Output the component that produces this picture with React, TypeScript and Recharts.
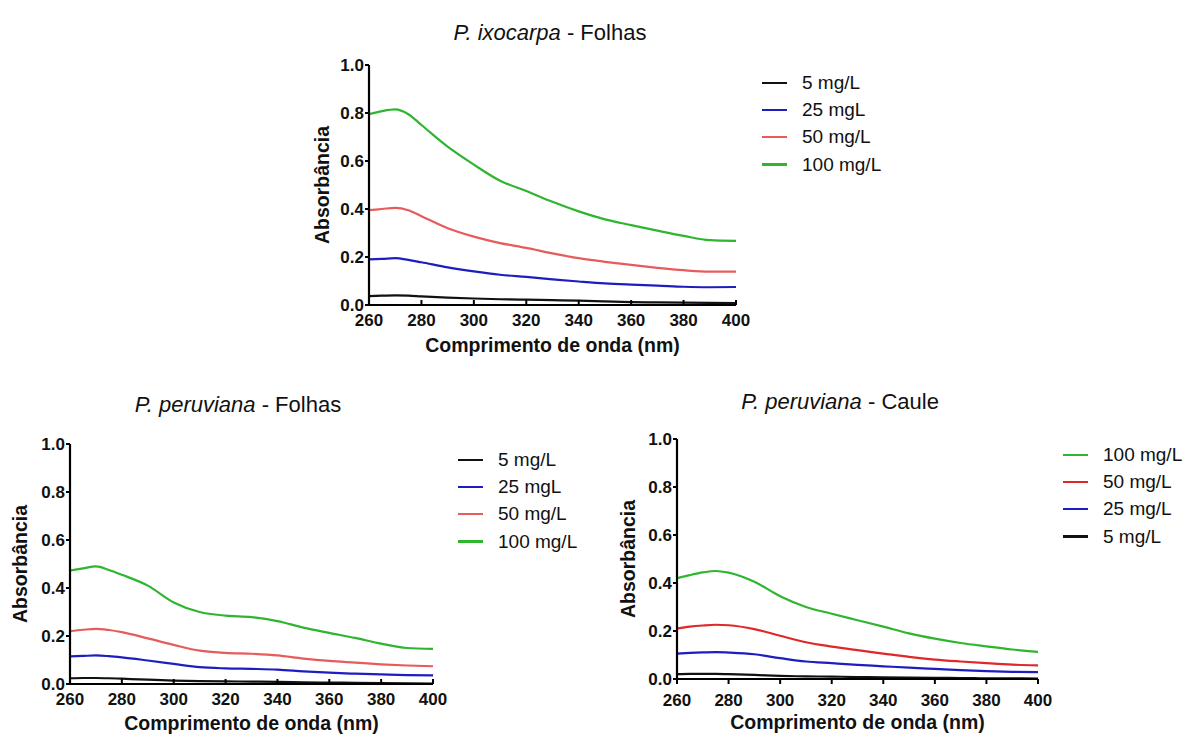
import React from 'react';
import { LineChart, Line, XAxis, YAxis, Legend, Label } from 'recharts';

const wavelengths = [260, 265, 270, 275, 280, 290, 300, 310, 320, 330, 340, 350, 360, 370, 380, 390, 400];
const xTicks = [260, 280, 300, 320, 340, 360, 380, 400];
const yTicks = [0, 0.2, 0.4, 0.6, 0.8, 1.0];

// P. ixocarpa - Folhas
const ixo5 = [0.037, 0.039, 0.04, 0.039, 0.036, 0.031, 0.027, 0.024, 0.022, 0.02, 0.018, 0.015, 0.012, 0.011, 0.01, 0.009, 0.008];
const ixo25 = [0.19, 0.192, 0.195, 0.188, 0.178, 0.157, 0.14, 0.126, 0.117, 0.107, 0.098, 0.09, 0.085, 0.081, 0.076, 0.074, 0.075];
const ixo50 = [0.395, 0.4, 0.405, 0.395, 0.37, 0.32, 0.285, 0.258, 0.238, 0.215, 0.195, 0.18, 0.167, 0.155, 0.145, 0.139, 0.139];
const ixo100 = [0.795, 0.808, 0.815, 0.795, 0.75, 0.66, 0.585, 0.518, 0.475, 0.43, 0.39, 0.357, 0.333, 0.31, 0.288, 0.27, 0.267];

// P. peruviana - Folhas
const perF5 = [0.024, 0.025, 0.025, 0.024, 0.022, 0.018, 0.014, 0.012, 0.011, 0.01, 0.009, 0.007, 0.006, 0.005, 0.004, 0.003, 0.002];
const perF25 = [0.115, 0.117, 0.119, 0.116, 0.111, 0.098, 0.084, 0.07, 0.065, 0.063, 0.06, 0.053, 0.047, 0.043, 0.04, 0.037, 0.036];
const perF50 = [0.22, 0.226, 0.23, 0.225, 0.216, 0.19, 0.163, 0.139, 0.13, 0.126, 0.119, 0.106, 0.096, 0.089, 0.082, 0.077, 0.074];
const perF100 = [0.473, 0.482, 0.49, 0.475, 0.455, 0.41, 0.34, 0.3, 0.285, 0.279, 0.262, 0.235, 0.213, 0.192, 0.168, 0.15, 0.146];

// P. peruviana - Caule
const perC5 = [0.02, 0.021, 0.021, 0.021, 0.02, 0.017, 0.013, 0.011, 0.01, 0.008, 0.007, 0.006, 0.005, 0.004, 0.003, 0.003, 0.002];
const perC25 = [0.106, 0.109, 0.111, 0.112, 0.11, 0.103, 0.087, 0.073, 0.066, 0.059, 0.053, 0.047, 0.042, 0.037, 0.033, 0.03, 0.029];
const perC50 = [0.21, 0.218, 0.223, 0.226, 0.224, 0.208, 0.18, 0.153, 0.135, 0.12, 0.106, 0.092, 0.081, 0.073, 0.066, 0.06, 0.057];
const perC100 = [0.42, 0.433, 0.444, 0.45, 0.443, 0.405, 0.345, 0.3, 0.272, 0.245, 0.218, 0.19, 0.168, 0.15, 0.136, 0.123, 0.113];

const FONT = '"Liberation Sans", Arial, sans-serif';

type Series = { key: string; name: string; color: string; values: number[] };

const toRows = (series: Series[]) =>
  wavelengths.map((w, i) => {
    const row: Record<string, number> = { w };
    series.forEach(s => { row[s.key] = s.values[i]; });
    return row;
  });

const LegendBox = ({ items }: { items: Series[] }) => (
  <div style={{ fontFamily: FONT, fontSize: 19, color: '#111' }}>
    {items.map(s => (
      <div key={s.key} style={{ display: 'flex', alignItems: 'center', height: 27.3 }}>
        <div style={{ width: 25, height: 2.2, background: s.color, marginRight: 15 }} />
        <span>{s.name}</span>
      </div>
    ))}
  </div>
);

interface PanelProps {
  title: string;
  titleX: number;
  titleY: number;
  left: number;
  top: number;
  width: number;
  height: number;
  plot: { x1: number; x2: number; y1: number; y2: number };
  series: Series[];
  legendOrder: Series[];
  legendX: number;
  legendY: number;
  inwardTicks: boolean;
  yLabelDx: number;
  xLabelDy: number;
  xTickMargin: number;
}

const Panel: React.FC<PanelProps> = p => {
  const rows = toRows(p.series);
  const [italic, rest] = p.title.split(' - ');
  return (
    <>
      <div
        style={{
          position: 'absolute', left: p.titleX - 200, top: p.titleY - 13, width: 400, height: 26,
          lineHeight: '26px', textAlign: 'center', fontFamily: FONT, fontSize: 22, color: '#111',
        }}
      >
        <i>{italic}</i> - {rest}
      </div>
      <div style={{ position: 'absolute', left: p.left, top: p.top }}>
        <LineChart
          width={p.width}
          height={p.height}
          data={rows}
          margin={{ top: p.plot.y1 - p.top, right: p.left + p.width - p.plot.x2, left: 0, bottom: 0 }}
        >
          <XAxis
            dataKey="w"
            type="number"
            domain={[260, 400]}
            ticks={xTicks}
            height={p.height - (p.plot.y2 - p.top)}
            tickSize={p.inwardTicks ? -5 : 5}
            tickMargin={p.xTickMargin}
            axisLine={{ stroke: '#000', strokeWidth: 2.2 }}
            tickLine={{ stroke: '#000', strokeWidth: 2 }}
            tick={{ fill: '#111', fontSize: 17, fontWeight: 700, fontFamily: FONT }}
          >
            <Label
              value="Comprimento de onda (nm)"
              position="center"
              dy={p.xLabelDy}
              style={{ fill: '#111', fontSize: 19.5, fontWeight: 700, fontFamily: FONT }}
            />
          </XAxis>
          <YAxis
            type="number"
            domain={[0, 1]}
            ticks={yTicks}
            width={p.plot.x1 - p.left}
            tickSize={4}
            tickMargin={1}
            tickFormatter={(v: number) => v.toFixed(1)}
            axisLine={{ stroke: '#000', strokeWidth: 2.2 }}
            tickLine={{ stroke: '#000', strokeWidth: 2 }}
            tick={{ fill: '#111', fontSize: 17, fontWeight: 700, fontFamily: FONT }}
          >
            <Label
              value="Absorbância"
              angle={-90}
              position="center"
              dx={p.yLabelDx}
              style={{ fill: '#111', fontSize: 19.5, fontWeight: 700, fontFamily: FONT }}
            />
          </YAxis>
          <Legend
            layout="horizontal"
            verticalAlign="middle"
            align="center"
            wrapperStyle={{ position: 'absolute', left: p.legendX - p.left, top: p.legendY - p.top, width: 160 }}
            content={() => <LegendBox items={p.legendOrder} />}
          />
          {p.series.map(s => (
            <Line
              key={s.key}
              type="monotone"
              dataKey={s.key}
              name={s.name}
              stroke={s.color}
              strokeWidth={2.2}
              dot={false}
              isAnimationActive={false}
            />
          ))}
        </LineChart>
      </div>
    </>
  );
};

const GREEN = '#2fb52f';
const BLUE = '#1e1ec0';
const BLACK = '#111111';

const ixoSeries: Series[] = [
  { key: 's5', name: '5 mg/L', color: BLACK, values: ixo5 },
  { key: 's25', name: '25 mgL', color: BLUE, values: ixo25 },
  { key: 's50', name: '50 mg/L', color: '#e65c5c', values: ixo50 },
  { key: 's100', name: '100 mg/L', color: GREEN, values: ixo100 },
];

const perFSeries: Series[] = [
  { key: 's5', name: '5 mg/L', color: BLACK, values: perF5 },
  { key: 's25', name: '25 mgL', color: BLUE, values: perF25 },
  { key: 's50', name: '50 mg/L', color: '#e65c5c', values: perF50 },
  { key: 's100', name: '100 mg/L', color: GREEN, values: perF100 },
];

const perCSeries: Series[] = [
  { key: 's5', name: '5 mg/L', color: BLACK, values: perC5 },
  { key: 's25', name: '25 mg/L', color: BLUE, values: perC25 },
  { key: 's50', name: '50 mg/L', color: '#e02828', values: perC50 },
  { key: 's100', name: '100 mg/L', color: GREEN, values: perC100 },
];

export default function App() {
  return (
    <div style={{ position: 'absolute', left: 0, top: 0, width: 1185, height: 734, background: '#fff', overflow: 'hidden' }}>
      <Panel
        title="P. ixocarpa - Folhas"
        titleX={550}
        titleY={33}
        left={290}
        top={55}
        width={630}
        height={310}
        plot={{ x1: 369, x2: 736, y1: 65, y2: 305 }}
        series={ixoSeries}
        legendOrder={ixoSeries}
        legendX={762}
        legendY={69}
        inwardTicks
        yLabelDx={-7}
        xLabelDy={10}
        xTickMargin={14}
      />
      <Panel
        title="P. peruviana - Folhas"
        titleX={238}
        titleY={405}
        left={0}
        top={430}
        width={600}
        height={304}
        plot={{ x1: 70, x2: 433, y1: 444, y2: 684 }}
        series={perFSeries}
        legendOrder={perFSeries}
        legendX={458}
        legendY={446}
        inwardTicks
        yLabelDx={-15}
        xLabelDy={14}
        xTickMargin={14}
      />
      <Panel
        title="P. peruviana - Caule"
        titleX={840}
        titleY={402}
        left={600}
        top={425}
        width={585}
        height={309}
        plot={{ x1: 677, x2: 1038, y1: 439, y2: 679 }}
        series={perCSeries}
        legendOrder={[...perCSeries].reverse()}
        legendX={1063}
        legendY={441}
        inwardTicks={false}
        yLabelDx={-10}
        xLabelDy={16}
        xTickMargin={10}
      />
    </div>
  );
}
